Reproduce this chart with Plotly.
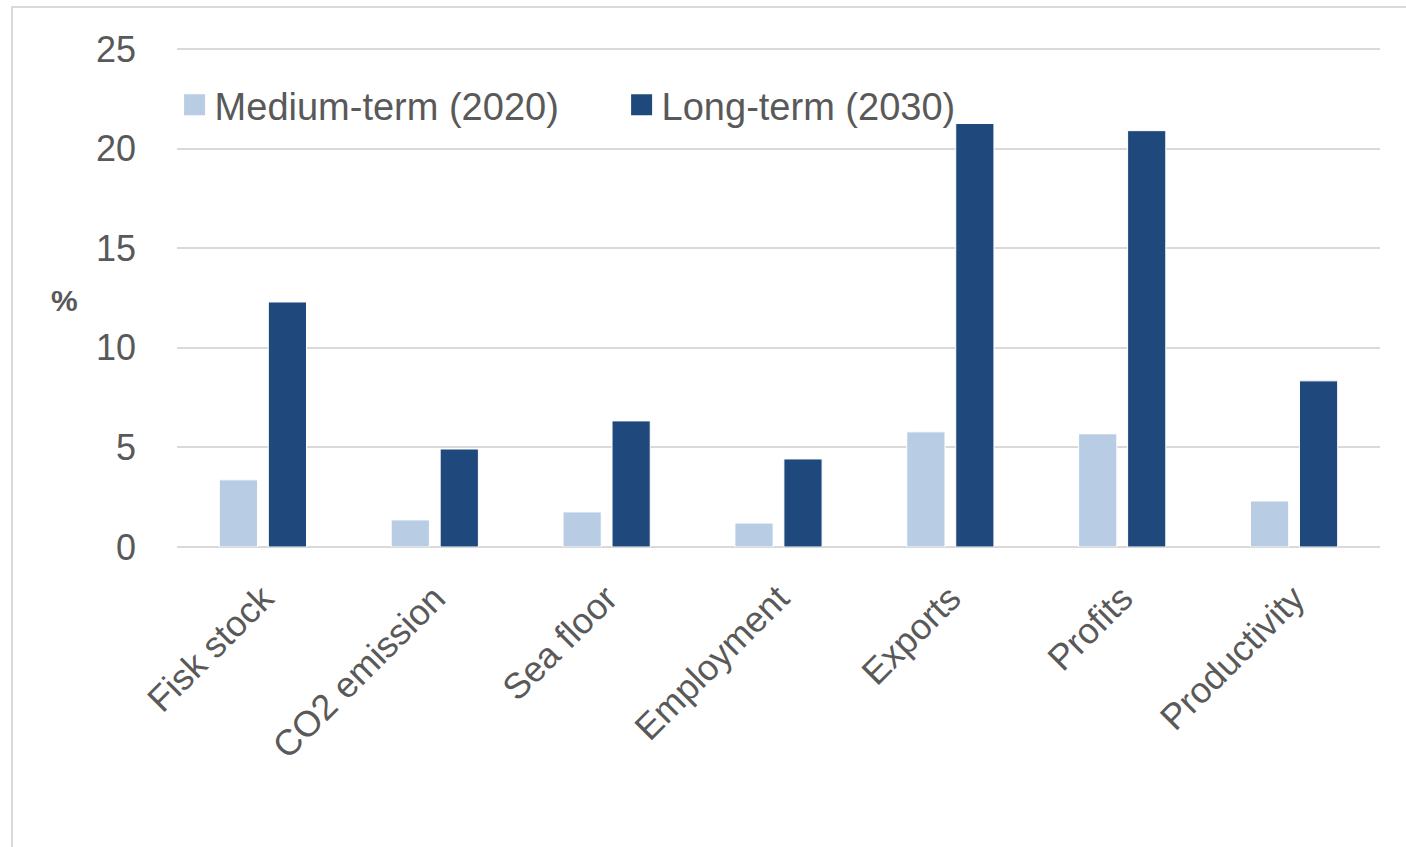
import plotly.graph_objects as go

categories = ["Fisk stock", "CO2 emission", "Sea floor", "Employment", "Exports", "Profits", "Productivity"]
medium_term = [3.37, 1.36, 1.76, 1.2, 5.78, 5.68, 2.31]
long_term = [12.3, 4.92, 6.33, 4.42, 21.26, 20.9, 8.34]
y_ticks = [0, 5, 10, 15, 20, 25]
series_names = ["Medium-term (2020)", "Long-term (2030)"]
series_colors = ["#B8CCE4", "#1F497D"]

FONT = "Liberation Sans, Arial, sans-serif"
TXT = "#595959"

fig = go.Figure()
for vals, name, col in zip([medium_term, long_term], series_names, series_colors):
    fig.add_trace(go.Bar(x=categories, y=vals, name=name, showlegend=False,
                         marker=dict(color=col, line=dict(color="white", width=1))))
# legend entries with larger square swatches, one legend each for exact placement
for name, col, lg in zip(series_names, series_colors, ["legend", "legend2"]):
    fig.add_trace(go.Scatter(x=[None], y=[None], mode="markers", name=name, legend=lg,
                             marker=dict(symbol="square", size=16, color=col,
                                         line=dict(color=col, width=5))))

legend_common = dict(orientation="h", xanchor="left", yanchor="middle", y=(547 - 105) / 504,
                     font=dict(family=FONT, size=38, color=TXT), bgcolor="rgba(0,0,0,0)",
                     itemsizing="trace")

fig.update_layout(
    width=1406, height=847,
    margin=dict(l=177, r=26, t=43, b=300),
    paper_bgcolor="white", plot_bgcolor="white",
    barmode="group", bargap=0.43, bargroupgap=0.22,
    font=dict(family=FONT, size=36, color=TXT),
    legend=dict(x=-0.002, **legend_common),
    legend2=dict(x=-0.002 + 447 / 1203, **legend_common),
    xaxis=dict(tickangle=-45, showgrid=False, showline=False, ticks="", ticklabelstandoff=22,
               tickfont=dict(family=FONT, size=36, color=TXT)),
    yaxis=dict(range=[0, 25.3], tickvals=y_ticks, showgrid=True, gridcolor="#D9D9D9", gridwidth=2,
               zeroline=True, zerolinecolor="#D9D9D9", zerolinewidth=2, showline=False,
               ticks="", ticklabelstandoff=40,
               tickfont=dict(family=FONT, size=36, color=TXT)),
    showlegend=True,
)
fig.add_annotation(text="<b>%</b>", xref="paper", yref="paper", x=(65 - 177) / 1203, y=(547 - 300) / 504,
                   showarrow=False, font=dict(family=FONT, size=30, color=TXT), xanchor="center", yanchor="middle")
fig.add_shape(type="rect", xref="paper", yref="paper",
              x0=(12 - 177) / 1203, x1=(1420 - 177) / 1203, y0=(547 - 860) / 504, y1=(547 - 7) / 504,
              line=dict(color="#D9D9D9", width=2), fillcolor="rgba(0,0,0,0)", layer="below")

fig.write_html("out.html")
